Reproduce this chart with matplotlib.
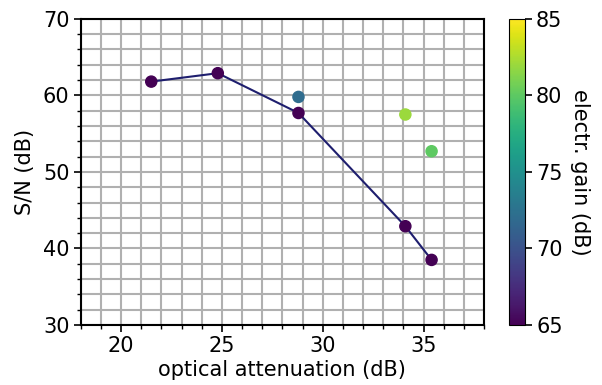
import matplotlib
matplotlib.use("Agg")
import matplotlib.pyplot as plt
import numpy as np
from matplotlib.ticker import MultipleLocator

# mediciones
atenuacion = [21.5, 24.8, 28.8, 34.1, 35.4, 28.8, 34.1, 35.4]
sn = [61.8, 62.9, 57.7, 42.9, 38.5, 59.8, 57.5, 52.7]
ganancia = [65, 65, 65, 65, 65, 72, 82, 80]

plt.rcParams['font.size'] = 15

fig = plt.figure(figsize=(6.02, 3.85), dpi=100)
ax = fig.add_axes([0.134, 0.156, 0.670, 0.795])
cax = fig.add_axes([0.846, 0.156, 0.026, 0.795])

att = np.array(atenuacion)
y = np.array(sn)
g = np.array(ganancia)
m = g == 65
ax.plot(att[m], y[m], color='#1e1e6e', lw=1.5, zorder=2)
sc = ax.scatter(att, y, c=g, cmap='viridis', vmin=65, vmax=85, s=64, zorder=3)

ax.set_xlim(18, 38)
ax.set_ylim(30, 70)
ax.xaxis.set_major_locator(MultipleLocator(5))
ax.xaxis.set_minor_locator(MultipleLocator(1))
ax.yaxis.set_major_locator(MultipleLocator(10))
ax.yaxis.set_minor_locator(MultipleLocator(2))
ax.set_axisbelow(True)
ax.grid(which='both', color='#b0b0b0', lw=1.5)
for s in ax.spines.values():
    s.set_linewidth(1.5)
ax.tick_params(which='major', length=5, width=1.2, pad=3)
ax.tick_params(which='minor', length=3, width=1)
ax.set_xlabel("optical attenuation (dB)", labelpad=3)
ax.set_ylabel("S/N (dB)", labelpad=6)

cb = fig.colorbar(sc, cax=cax)
cb.set_ticks([65, 70, 75, 80, 85])
cb.ax.tick_params(length=5, width=1.2, pad=3)
cb.set_label("electr. gain (dB)", rotation=270, labelpad=20)
cb.outline.set_linewidth(0.8)

plt.savefig("out.png", dpi=100)
